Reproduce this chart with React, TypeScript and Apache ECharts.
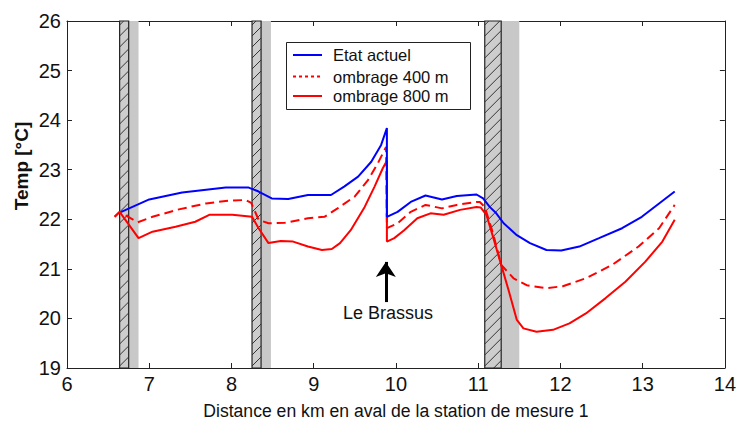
import React, { useEffect, useRef } from "react";
import * as echarts from "echarts";

// ---- data ----
const xTicks = [6, 7, 8, 9, 10, 11, 12, 13, 14];
const yTicks = [19, 20, 21, 22, 23, 24, 25, 26];

const seriesNames = ["Etat actuel", "ombrage 400 m", "ombrage 800 m"];

const etatActuel: number[][] = [
  [6.66, 22.15], [7.0, 22.4], [7.4, 22.54], [7.93, 22.64], [8.21, 22.64],
  [8.33, 22.56], [8.49, 22.42], [8.69, 22.41], [8.93, 22.49], [9.21, 22.49],
  [9.37, 22.66], [9.54, 22.86], [9.7, 23.16], [9.82, 23.5], [9.89, 23.84],
  [9.89, 22.05], [10.02, 22.15], [10.18, 22.35], [10.36, 22.48], [10.56, 22.4],
  [10.74, 22.47], [10.98, 22.5], [11.06, 22.42], [11.14, 22.25], [11.22, 22.12],
  [11.31, 21.92], [11.47, 21.68], [11.63, 21.52], [11.83, 21.38], [12.01, 21.37],
  [12.23, 21.45], [12.47, 21.62], [12.75, 21.82], [12.99, 22.05], [13.2, 22.32],
  [13.39, 22.56],
];

const ombrage400: number[][] = [
  [6.58, 22.05], [6.64, 22.15], [6.86, 21.94], [7.04, 22.05], [7.36, 22.2],
  [7.69, 22.32], [7.93, 22.37], [8.17, 22.39], [8.24, 22.33], [8.33, 21.99],
  [8.45, 21.92], [8.65, 21.93], [8.93, 22.02], [9.13, 22.05], [9.29, 22.22],
  [9.5, 22.46], [9.66, 22.79], [9.78, 23.13], [9.88, 23.46], [9.89, 21.82],
  [10.02, 21.92], [10.18, 22.15], [10.36, 22.29], [10.56, 22.22], [10.74, 22.29],
  [10.98, 22.35], [11.02, 22.35], [11.08, 22.25], [11.18, 21.72], [11.28, 21.08],
  [11.43, 20.81], [11.59, 20.67], [11.83, 20.61], [12.03, 20.65], [12.31, 20.81],
  [12.63, 21.08], [12.95, 21.45], [13.2, 21.82], [13.39, 22.29],
];

const ombrage800: number[][] = [
  [6.58, 22.05], [6.64, 22.15], [6.87, 21.62], [7.04, 21.75], [7.32, 21.85],
  [7.56, 21.95], [7.73, 22.09], [8.01, 22.09], [8.25, 22.05], [8.33, 21.82],
  [8.45, 21.52], [8.6, 21.56], [8.75, 21.55], [8.93, 21.45], [9.1, 21.38],
  [9.22, 21.4], [9.32, 21.52], [9.45, 21.78], [9.62, 22.25], [9.74, 22.66],
  [9.84, 23.03], [9.89, 23.18], [9.89, 21.55], [9.98, 21.62], [10.1, 21.78],
  [10.26, 22.02], [10.42, 22.12], [10.58, 22.09], [10.78, 22.19], [10.98, 22.25],
  [11.03, 22.24], [11.1, 22.09], [11.18, 21.65], [11.28, 21.08], [11.37, 20.57],
  [11.47, 19.97], [11.55, 19.8], [11.71, 19.73], [11.91, 19.77], [12.11, 19.9],
  [12.31, 20.1], [12.55, 20.41], [12.79, 20.74], [13.03, 21.14], [13.24, 21.55],
  [13.39, 21.99],
];

// barriers (hatched part start / end, grey shade end), km
const hatchStart = [6.64, 8.25, 11.08];
const hatchEnd = [6.75, 8.36, 11.28];
const shadeEnd = [6.87, 8.48, 11.5];

// annotation
const arrowX = 9.877;
const arrowFrom = 20.33;
const arrowTo = 21.14;
const annotationText = "Le Brassus";

const FONT = "'Liberation Sans', Arial, Helvetica, sans-serif";

export default function App() {
  const ref = useRef<HTMLDivElement>(null);

  useEffect(() => {
    document.body.style.margin = "0";
    const chart = echarts.init(ref.current!, null, { renderer: "svg" });

    const barrierData = hatchStart.map((s, i) => [s, hatchEnd[i], shadeEnd[i]]);
    const axisLineStyle = { color: "#222", width: 1 };

    // legend drawn as graphic (box, line samples, labels)
    const legendRows = [55, 76.5, 96];
    const legendStyles = [
      { stroke: "#0000ff", lineWidth: 2 },
      { stroke: "#ff0000", lineWidth: 2, lineDash: [3, 3] },
      { stroke: "#ff0000", lineWidth: 2 },
    ];
    const legendGraphics: any[] = [
      {
        type: "rect",
        shape: { x: 286.5, y: 42.5, width: 184, height: 67 },
        style: { fill: "#fff", stroke: "#222", lineWidth: 1 },
        z: 10,
      },
    ];
    seriesNames.forEach((name, i) => {
      legendGraphics.push({
        type: "line",
        shape: { x1: 293, y1: legendRows[i], x2: 322, y2: legendRows[i] },
        style: legendStyles[i],
        z: 11,
      });
      legendGraphics.push({
        type: "text",
        x: 333,
        y: legendRows[i],
        style: {
          text: name,
          font: `16.5px ${FONT}`,
          align: "left",
          verticalAlign: "middle",
          fill: "#111",
        },
        z: 11,
      });
    });

    const option: any = {
      animation: false,
      backgroundColor: "#fff",
      textStyle: { fontFamily: FONT },
      grid: { left: 67, right: 9, top: 21, bottom: 60, containLabel: false },
      xAxis: [
        {
          type: "value",
          min: xTicks[0],
          max: xTicks[xTicks.length - 1],
          interval: 1,
          position: "bottom",
          axisLine: { show: true, onZero: false, lineStyle: axisLineStyle },
          axisTick: { show: true, inside: true, length: 5, lineStyle: axisLineStyle },
          axisLabel: { color: "#111", fontSize: 20, margin: 6, fontFamily: FONT },
          splitLine: { show: false },
          name: "Distance en km en aval de la station de mesure 1",
          nameLocation: "middle",
          nameGap: 34,
          nameTextStyle: { fontSize: 17.6, color: "#111", fontFamily: FONT },
        },
        {
          type: "value",
          min: xTicks[0],
          max: xTicks[xTicks.length - 1],
          interval: 1,
          position: "top",
          axisLine: { show: true, onZero: false, lineStyle: axisLineStyle },
          axisTick: { show: true, inside: true, length: 5, lineStyle: axisLineStyle },
          axisLabel: { show: false },
          splitLine: { show: false },
        },
      ],
      yAxis: [
        {
          type: "value",
          min: yTicks[0],
          max: yTicks[yTicks.length - 1],
          interval: 1,
          position: "left",
          axisLine: { show: true, onZero: false, lineStyle: axisLineStyle },
          axisTick: { show: true, inside: true, length: 5, lineStyle: axisLineStyle },
          axisLabel: { color: "#111", fontSize: 20, margin: 6, fontFamily: FONT },
          splitLine: { show: false },
        },
        {
          type: "value",
          min: yTicks[0],
          max: yTicks[yTicks.length - 1],
          interval: 1,
          position: "right",
          axisLine: { show: true, onZero: false, lineStyle: axisLineStyle },
          axisTick: { show: true, inside: true, length: 5, lineStyle: axisLineStyle },
          axisLabel: { show: false },
          splitLine: { show: false },
        },
      ],
      graphic: [
        {
          type: "text",
          x: 21,
          y: 166,
          rotation: Math.PI / 2,
          style: {
            text: "Temp [°C]",
            font: `bold 19px ${FONT}`,
            align: "center",
            verticalAlign: "middle",
            fill: "#111",
          },
        },
        {
          type: "text",
          x: 388,
          y: 313,
          style: {
            text: annotationText,
            font: `18px ${FONT}`,
            align: "center",
            verticalAlign: "middle",
            fill: "#111",
          },
        },
        ...legendGraphics,
      ],
      series: [
        {
          type: "custom",
          name: "barrières",
          silent: true,
          z: 1,
          xAxisIndex: 0,
          yAxisIndex: 0,
          encode: { x: [0, 1, 2] },
          data: barrierData,
          renderItem: (params: any, api: any) => {
            const x0 = api.value(0);
            const x1 = api.value(1);
            const x2 = api.value(2);
            const pTop = api.coord([x0, yTicks[yTicks.length - 1]]);
            const pMid = api.coord([x1, yTicks[0]]);
            const pEnd = api.coord([x2, yTicks[0]]);
            const left = pTop[0];
            const top = pTop[1];
            const mid = pMid[0];
            const bottom = pMid[1];
            const right = pEnd[0];
            const children: any[] = [
              {
                type: "rect",
                shape: { x: mid, y: top, width: right - mid, height: bottom - top },
                style: { fill: "#c8c8c8" },
              },
              {
                type: "rect",
                shape: { x: left, y: top, width: mid - left, height: bottom - top },
                style: { fill: "#cdcdcd", stroke: "#222", lineWidth: 1.2 },
              },
            ];
            const step = 11;
            for (let k = left + top + 4; k < mid + bottom; k += step) {
              const xa = Math.max(left, k - bottom);
              const xb = Math.min(mid, k - top);
              if (xb <= xa) continue;
              children.push({
                type: "line",
                shape: { x1: xa, y1: k - xa, x2: xb, y2: k - xb },
                style: { stroke: "#333", lineWidth: 1 },
              });
            }
            return { type: "group", children };
          },
        },
        {
          type: "line",
          name: seriesNames[0],
          data: etatActuel,
          symbol: "none",
          showSymbol: false,
          z: 4,
          color: "#0000ff",
          lineStyle: { color: "#0000ff", width: 2 },
          markLine: {
            silent: true,
            symbol: ["none", "arrow"],
            symbolSize: 15,
            label: { show: false },
            lineStyle: { color: "#000", width: 3, type: "solid" },
            data: [[{ coord: [arrowX, arrowFrom] }, { coord: [arrowX, arrowTo] }]],
          },
        },
        {
          type: "line",
          name: seriesNames[1],
          data: ombrage400,
          symbol: "none",
          showSymbol: false,
          z: 3,
          color: "#ff0000",
          lineStyle: { color: "#ff0000", width: 2, type: [9, 5] },
        },
        {
          type: "line",
          name: seriesNames[2],
          data: ombrage800,
          symbol: "none",
          showSymbol: false,
          z: 3,
          color: "#ff0000",
          lineStyle: { color: "#ff0000", width: 2 },
        },
      ],
    };

    chart.setOption(option);
    return () => chart.dispose();
  }, []);

  return (
    <div
      ref={ref}
      style={{ position: "absolute", left: 0, top: 0, width: 739, height: 428 }}
    />
  );
}
